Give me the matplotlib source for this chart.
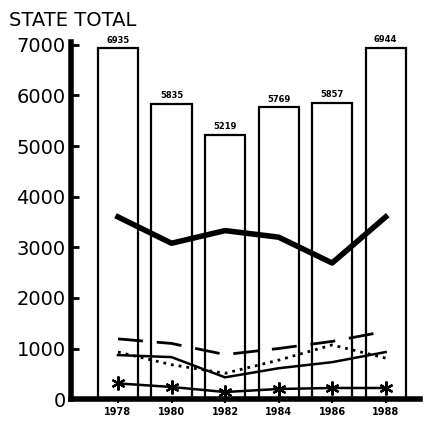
import numpy as np
import matplotlib
matplotlib.use("Agg")
import matplotlib.pyplot as plt

years = [1978, 1980, 1982, 1984, 1986, 1988]
totals = [6935, 5835, 5219, 5769, 5857, 6944]

thick_line = [3600, 3080, 3330, 3200, 2690, 3600]
dashed_line = [1190, 1100, 880, 1000, 1140, 1340]
dotted_line = [930, 680, 510, 770, 1070, 810]
thin_line = [870, 830, 430, 610, 730, 930]
star_line = [310, 240, 140, 200, 220, 220]

fig = plt.figure(figsize=(4.26, 4.21), dpi=100)
ax = fig.add_axes([0.167, 0.052, 0.82, 0.848])

# hollow bars for state totals
ax.bar(years, totals, width=1.5, facecolor="white", edgecolor="black", linewidth=1.6)
for x, v in zip(years, totals):
    ax.text(x, v + 70, str(v), ha="center", va="bottom", fontsize=6, fontweight="bold")

ax.plot(years, thick_line, color="black", linewidth=4, solid_joinstyle="round")
ax.plot(years, dashed_line, color="black", linewidth=2, dashes=(9, 5))
ax.plot(years, dotted_line, color="black", linewidth=2, linestyle=(0, (1, 1.8)))
ax.plot(years, thin_line, color="black", linewidth=1.8)
ax.plot(years, star_line, color="black", linewidth=1.8, marker=(6, 2, 0), markersize=10,
        markeredgewidth=1.6)

ax.set_xlim(1976.25, 1989.3)
ax.set_ylim(0, 7055)
ax.set_xticks(years)
ax.set_xticklabels([str(y) for y in years], fontsize=7, fontweight="bold")
ax.set_yticks(range(0, 7001, 1000))
ax.set_yticklabels([str(v) for v in range(0, 7001, 1000)], fontsize=14)
ax.tick_params(axis="y", direction="in", length=6, width=2, pad=4)
ax.tick_params(axis="x", direction="out", length=3, width=1.5, pad=3)

for side in ["top", "right"]:
    ax.spines[side].set_visible(False)
ax.spines["left"].set_linewidth(4)
ax.spines["bottom"].set_linewidth(4)

fig.text(0.02, 0.975, "STATE TOTAL", fontsize=14, va="top", ha="left")

fig.savefig("out.png", dpi=100)
